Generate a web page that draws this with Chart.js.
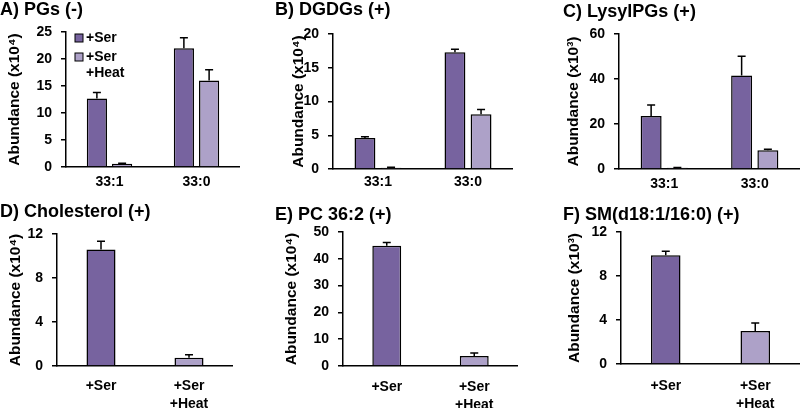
<!DOCTYPE html>
<html>
<head>
<meta charset="utf-8">
<script src="https://cdn.jsdelivr.net/npm/chart.js@4.4.1/dist/chart.umd.min.js"></script>
<style>
	body { margin: 0; background: #fff; width: 800px; height: 408px; position: relative; overflow: hidden; }
	canvas { position: absolute; }
</style>
</head>
<body>
<canvas id="pA"></canvas>
<canvas id="pB"></canvas>
<canvas id="pC"></canvas>
<canvas id="pD"></canvas>
<canvas id="pE"></canvas>
<canvas id="pF"></canvas>
<script>
const darkPurple = '#77639f'
const lightPurple = '#ada1c8'
const font = '"Liberation Sans", Arial, sans-serif'

// categories
const lipidLabels = ['33:1', '33:0']
const treatLabels = ['+Ser', ['+Ser', '+Heat']]
const seriesNames = ['+Ser', '+Ser +Heat']
const legendLines = [['+Ser'], ['+Ser', '+Heat']]

// A) PGs (-)  x10^4
const pgSer = [12.7, 22.0]
const pgSerErr = [1.1, 1.95]
const pgHeat = [0.6, 16.0]
const pgHeatErr = [0.1, 2.0]

// B) DGDGs (+)  x10^4
const dgdgSer = [4.6, 17.3]
const dgdgSerErr = [0.18, 0.45]
const dgdgHeat = [0.2, 8.1]
const dgdgHeatErr = [0.05, 0.7]

// C) LysylPGs (+)  x10^3
const lysylSer = [23.6, 41.6]
const lysylSerErr = [4.9, 8.5]
const lysylHeat = [0.6, 8.3]
const lysylHeatErr = [0.1, 0.5]

// D) Cholesterol, E) PC 36:2, F) SM  (+Ser, +Ser +Heat)
const cholVals = [10.6, 0.76]
const cholErr = [0.75, 0.27]
const pcVals = [44.9, 3.7]
const pcErr = [1.2, 1.15]
const smVals = [9.88, 3.01]
const smErr = [0.36, 0.72]

// y axis ranges
const yMaxA = 25, yStepA = 5
const yMaxB = 20, yStepB = 5
const yMaxC = 60, yStepC = 20
const yMaxD = 12, yStepD = 4
const yMaxE = 50, yStepE = 10
const yMaxF = 12, yStepF = 4

const errorBars = {
	id: 'errorBars',
	afterDatasetsDraw(chart) {
		const ctx = chart.ctx
		const yScale = chart.scales.y
		chart.data.datasets.forEach((ds, i) => {
			if (!ds.errors) return
			chart.getDatasetMeta(i).data.forEach((bar, j) => {
				const top = yScale.getPixelForValue(ds.data[j] + ds.errors[j])
				ctx.save()
				ctx.strokeStyle = '#000'
				ctx.lineWidth = 1.5
				ctx.beginPath()
				ctx.moveTo(bar.x, bar.y)
				ctx.lineTo(bar.x, top)
				ctx.moveTo(bar.x - 4, top)
				ctx.lineTo(bar.x + 4, top)
				ctx.stroke()
				ctx.restore()
			})
		})
	}
}

const boxLegend = {
	id: 'boxLegend',
	afterDraw(chart, args, opts) {
		if (!opts.show) return
		const ctx = chart.ctx
		const x = chart.chartArea.left + opts.dx
		let y = chart.chartArea.top + opts.dy
		ctx.save()
		ctx.font = 'bold 14px ' + font
		ctx.textBaseline = 'middle'
		chart.data.datasets.forEach((ds, i) => {
			const lines = opts.lines[i]
			ctx.fillStyle = ds.backgroundColor
			ctx.fillRect(x, y - 4, 8, 8)
			ctx.strokeStyle = '#000'
			ctx.lineWidth = 1
			ctx.strokeRect(x, y - 4, 8, 8)
			ctx.fillStyle = '#000'
			lines.forEach((t, k) => ctx.fillText(t, x + 11, y + k * 16))
			y += (lines.length - 1) * 16 + 19
		})
		ctx.restore()
	}
}

function createPanel(p) {
	const canvas = document.getElementById(p.id)
	canvas.width = p.w
	canvas.height = p.h
	canvas.style.left = p.left + 'px'
	canvas.style.top = p.top + 'px'
	const titleLH = 18 * 1.2
	const yTitleLH = 15.5 * 1.2
	const tickFont = { family: font, size: 14, weight: 'bold', lineHeight: 1.3 }
	return new Chart(canvas.getContext('2d'), {
		type: 'bar',
		data: { labels: p.labels, datasets: p.datasets },
		options: {
			responsive: false,
			animation: false,
			events: [],
			layout: { padding: 0 },
			plugins: {
				legend: { display: false },
				tooltip: { enabled: false },
				title: {
					display: true,
					text: p.title,
					align: 'start',
					color: '#000',
					font: { family: font, size: 18, weight: 'bold', lineHeight: 1.2 },
					padding: { top: p.titleC - titleLH / 2, bottom: p.areaTop - p.titleC - titleLH / 2 }
				},
				boxLegend: p.legend || { show: false }
			},
			scales: {
				x: {
					ticks: { color: '#000', font: tickFont, padding: p.xPad, maxRotation: 0, autoSkip: false },
					grid: { display: false, drawTicks: false },
					border: { color: '#000', width: 1.5 },
					afterFit(s) { s.height = p.h - p.areaBottom }
				},
				y: {
					min: 0,
					max: p.yMax,
					ticks: { stepSize: p.yStep, color: '#000', font: tickFont, padding: 9 },
					grid: { drawOnChartArea: false, drawTicks: true, tickLength: 5, color: '#000', lineWidth: 1.5 },
					border: { color: '#000', width: 1.5 },
					title: {
						display: true,
						text: p.yTitle,
						color: '#000',
						font: { family: font, size: 15.5, weight: 'bold', lineHeight: 1.2 },
						padding: { top: p.yTitleC - yTitleLH / 2, bottom: 0 }
					},
					afterFit(s) { s.width = p.yW }
				}
			}
		},
		plugins: [errorBars, boxLegend]
	})
}

function pairSets(ser, serErr, heat, heatErr) {
	return [
		{ label: seriesNames[0], data: ser, errors: serErr, backgroundColor: darkPurple, borderColor: '#000', borderWidth: 1.5, categoryPercentage: 0.58, barPercentage: 0.8 },
		{ label: seriesNames[1], data: heat, errors: heatErr, backgroundColor: lightPurple, borderColor: '#000', borderWidth: 1.5, categoryPercentage: 0.58, barPercentage: 0.8 }
	]
}

function singleSet(vals, errs) {
	return [
		{ label: 'Abundance', data: vals, errors: errs, backgroundColor: [darkPurple, lightPurple], borderColor: '#000', borderWidth: 1.5, categoryPercentage: 1, barPercentage: 0.33 }
	]
}

createPanel({
	id: 'pA', left: 0, top: 0, w: 240, h: 200, yW: 66, areaTop: 32, areaBottom: 167, titleC: 10.5, yTitleC: 15, xPad: 6,
	title: 'A) PGs (-)', yTitle: 'Abundance (x10⁴)', yMax: yMaxA, yStep: yStepA,
	labels: lipidLabels, datasets: pairSets(pgSer, pgSerErr, pgHeat, pgHeatErr),
	legend: { show: true, dx: 9, dy: 6, lines: legendLines }
})
createPanel({
	id: 'pB', left: 275, top: 0, w: 238, h: 200, yW: 58, areaTop: 34, areaBottom: 169, titleC: 10.5, yTitleC: 24, xPad: 4,
	title: 'B) DGDGs (+)', yTitle: 'Abundance (x10⁴)', yMax: yMaxB, yStep: yStepB,
	labels: lipidLabels, datasets: pairSets(dgdgSer, dgdgSerErr, dgdgHeat, dgdgHeatErr)
})
createPanel({
	id: 'pC', left: 563, top: 0, w: 237, h: 200, yW: 56, areaTop: 34, areaBottom: 169, titleC: 12, yTitleC: 11, xPad: 6,
	title: 'C) LysylPGs (+)', yTitle: 'Abundance (x10³)', yMax: yMaxC, yStep: yStepC,
	labels: lipidLabels, datasets: pairSets(lysylSer, lysylSerErr, lysylHeat, lysylHeatErr)
})
createPanel({
	id: 'pD', left: 0, top: 200, w: 233, h: 208, yW: 57, areaTop: 34, areaBottom: 166, titleC: 12, yTitleC: 15.5, xPad: 11,
	title: 'D) Cholesterol (+)', yTitle: 'Abundance (x10⁴)', yMax: yMaxD, yStep: yStepD,
	labels: treatLabels, datasets: singleSet(cholVals, cholErr)
})
createPanel({
	id: 'pE', left: 275, top: 200, w: 243, h: 208, yW: 68, areaTop: 32, areaBottom: 166, titleC: 15, yTitleC: 17, xPad: 12,
	title: 'E) PC 36:2 (+)', yTitle: 'Abundance (x10⁴)', yMax: yMaxE, yStep: yStepE,
	labels: treatLabels, datasets: singleSet(pcVals, pcErr)
})
createPanel({
	id: 'pF', left: 563, top: 200, w: 237, h: 208, yW: 58, areaTop: 32, areaBottom: 164, titleC: 15, yTitleC: 12, xPad: 13,
	title: 'F) SM(d18:1/16:0) (+)', yTitle: 'Abundance (x10³)', yMax: yMaxF, yStep: yStepF,
	labels: treatLabels, datasets: singleSet(smVals, smErr)
})
</script>
</body>
</html>
